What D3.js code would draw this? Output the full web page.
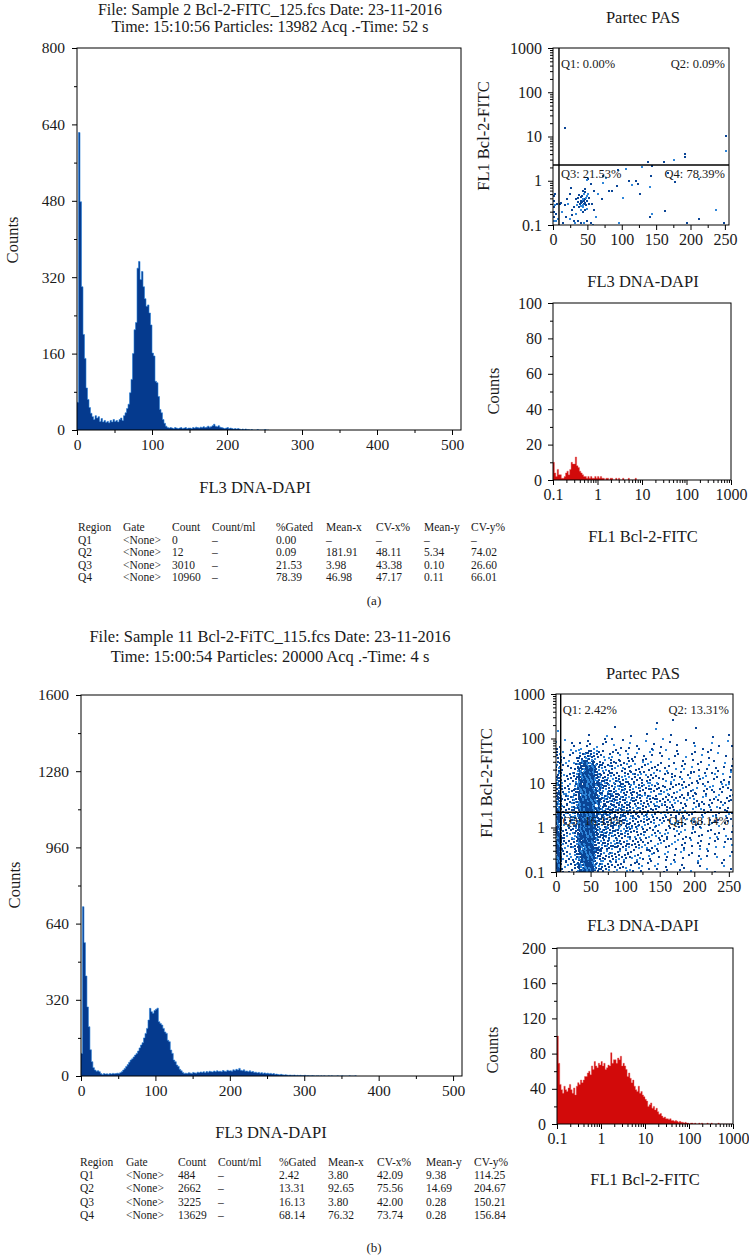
<!DOCTYPE html>
<html><head><meta charset="utf-8">
<script src="https://cdn.jsdelivr.net/npm/d3@7"></script>
<style>
body{margin:0;background:#fff}
svg{display:block}
text{font-family:"Liberation Serif","Times New Roman",serif;fill:#1a1a1a}
</style></head>
<body><svg id="c" width="749" height="1259"></svg>
<script>
// ================= DATA =================
const titleA = ["File: Sample 2 Bcl-2-FITC_125.fcs Date: 23-11-2016", "Time: 15:10:56 Particles: 13982 Acq .-Time: 52 s"];
const titleB = ["File: Sample 11 Bcl-2-FiTC_115.fcs Date: 23-11-2016", "Time: 15:00:54 Particles: 20000 Acq .-Time: 4 s"];
const scatterTitle = "Partec PAS";
const dnaLabel = "FL3 DNA-DAPI";
const bclLabel = "FL1 Bcl-2-FITC";
const countsLabel = "Counts";

// main DNA histograms: counts per channel bin (bin width 2, starting at 0)
const histBinWidth = 2;
const mainTicksX = [0, 100, 200, 300, 400, 500];
const mainTicksYA = [0, 160, 320, 480, 640, 800];
const mainTicksYB = [0, 320, 640, 960, 1280, 1600];
const mainCountsA = [58,623,478,300,200,150,88,64,47,35,28,22,30,25,28,18,24,17,20,16,
  18,15,20,17,22,18,20,17,22,25,20,30,36,45,54,78,106,160,210,225,
  339,353,315,332,300,275,259,262,245,220,161,155,102,99,70,43,36,22,14,8,
  5,4,5,4,3,5,4,3,4,5,3,4,5,3,4,4,3,5,4,6,
  5,4,6,5,7,5,6,8,6,7,9,12,8,7,9,6,5,4,3,4,
  5,3,4,3,2,3,2,3,2,1,2,1,2,1,1,0,1,0,0,0,
  1,0,0,0,0,1,0,0];
const mainCountsB = [95,711,560,420,290,207,110,60,35,25,20,22,18,10,6,10,8,9,7,10,
  8,11,9,10,12,11,14,18,25,32,40,48,58,67,72,80,88,95,105,118,
  130,140,160,179,200,235,284,270,263,275,280,285,228,220,214,200,185,179,150,144,
  109,95,67,60,46,40,28,22,15,11,12,10,14,12,11,15,13,12,16,14,
  17,15,18,14,19,16,20,18,17,21,18,22,19,20,18,23,20,19,24,21,
  22,20,26,23,28,25,32,24,22,26,20,21,18,22,17,19,15,16,13,15,
  12,14,11,13,10,12,9,11,8,10,7,8,6,5,7,5,4,5,4,3,
  4,3,3,4,2,3,2,3,2,2,3,1,2,1,1,2,1,0,1,1,
  0,1,0,1,0,0,1,0,1,0,0,0,1,0,0,1,0,0,0,0,
  1,0,0,0,1];

// FITC histograms: counts per log bin (32 bins per decade from 0.1)
const redBinsPerDecade = 32;
const logTicks = [0.1, 1, 10, 100, 1000];
const redTicksYA = [0, 20, 40, 60, 80, 100];
const redTicksYB = [0, 40, 80, 120, 160, 200];
const redCountsA = [10,4,2,6,3,3,1,1,2,4,5,3,6,10,9,9,13,8,7,5,4,3,2,2,1,2,1,2,1,1,2,1,
  2,1,2,1,1,0,1,1,0,1,1,0,0,1,0,1,0,0,1,0,0,0,1,0,0,0,0,1];
const redCountsB = [100,69,45,39,35,43,39,37,41,45,39,35,41,33,43,47,45,50,47,50,54,54,58,60,56,66,62,71,66,64,69,67,
  71,66,69,62,64,67,66,81,69,73,73,69,75,73,77,66,69,66,62,54,58,52,47,50,43,39,37,43,35,37,33,31,
  28,26,20,22,24,18,20,16,18,14,11,12,9,7,8,6,6,5,6,4,4,3,4,3,2,3,2,2,1,2,1,1,
  0,1,1,0,1,0,0,1,0,1,0,0,0,1,0,0,1,0,0,0,0,1,0,0,0,0,0,0,0,0,0,0];

// scatter (a): individual events [DNA, FITC]
const scatterTicksX = [0, 50, 100, 150, 200, 250];
const scatterPointsA = [
  [18,15.5],[252,10],[252,4.6],[192,4],[192,3.4],[176,3.0],[162,2.6],[138,2.6],[129,2.0],[144,2.15],
  [95,1.75],[106,1.8],[167,1.5],[178,0.92],[213,1.1],[120,0.99],[111,1.0],[115,0.8],[123,0.85],[142,1.25],
  [141,0.74],[93,0.76],[73,1.25],[77,1.15],[82,0.59],[86,0.6],[72,0.9],[55,0.85],[51,1.1],[50,1.05],
  [26,0.7],[71,0.38],[102,0.4],[126,0.5],[163,0.21],[144,0.18],[141,0.15],[212,0.14],[237,0.22],[195,0.11],
  [248,0.11],[96,0.11],
  [40,0.35],[42,0.33],[44,0.36],[45,0.3],[46,0.38],[43,0.28],[41,0.42],[47,0.32],[48,0.4],[39,0.3],
  [38,0.25],[44,0.25],[46,0.22],[42,0.45],[45,0.5],[48,0.28],[50,0.35],[49,0.45],[36,0.33],[37,0.4],
  [43,0.38],[45,0.34],[41,0.31],[40,0.27],[52,0.3],[53,0.4],[35,0.28],[44,0.2],[47,0.55],[49,0.23],
  [34,0.38],[38,0.48],[51,0.5],[43,0.6],[46,0.65],[40,0.22],
  [1,0.45],[2,0.35],[3,0.28],[1,0.2],[2,0.15],[4,0.12],[3,0.5],[5,0.18],[1,0.12],[6,0.3],[2,0.25],[7,0.14],
  [10,0.3],[12,0.32],[13,0.2],[17,0.28],[20,0.38],[22,0.3],[24,0.5],[19,0.15],[25,0.14],[28,0.17],
  [30,0.12],[32,0.11],[36,0.12],[40,0.11],[45,0.11],[50,0.12],[55,0.11],[58,0.1],[27,0.22],[31,0.25],
  [33,0.18],[15,0.11],[60,0.22],[62,0.15],[57,0.3],[60,0.6],[65,0.5]
];
const gateXA = 8.7, gateYA = 2.27;
const gateXB = 6.8, gateYB = 2.2;

// scatter (b): visible events per cell; columns = DNA bins of 8 (0..256), rows = FITC quarter-decades from 0.1 (bottom row first)
const gridDnaStep = 8;
const gridRowsPerDecade = 4;
const scatterGridB = [
  [28,4,4,6,18,28,28,9,6,5,5,4,4,3,3,3,2,2,2,2,2,1,2,1,1,1,1,1,1,1,1,1],
  [28,5,4,7,20,28,28,10,7,6,6,5,5,4,4,3,3,3,2,2,2,2,2,2,1,2,1,2,1,1,1,2],
  [28,5,5,8,22,28,28,12,8,8,7,7,6,5,5,4,4,3,3,3,3,2,2,2,2,2,2,2,2,1,2,2],
  [26,5,5,8,24,28,28,14,10,9,9,8,7,6,5,5,4,4,4,3,3,3,3,2,3,2,2,2,2,2,2,2],
  [24,5,5,9,25,28,28,16,11,10,10,10,8,7,6,6,5,5,4,4,4,3,3,3,3,3,3,2,3,2,2,3],
  [20,6,6,10,25,28,28,17,12,11,11,10,9,8,7,7,6,5,5,4,4,4,4,4,3,3,3,3,3,3,3,3],
  [16,5,6,10,25,28,28,17,11,10,10,9,9,8,7,6,6,5,5,5,4,4,4,4,3,4,3,3,3,3,3,4],
  [14,5,5,9,24,28,28,16,10,9,8,8,7,7,6,6,5,5,4,4,4,4,3,3,4,3,3,3,3,2,3,3],
  [12,4,4,7,22,26,26,14,8,7,7,6,6,5,5,4,4,4,3,3,3,3,3,2,3,2,3,2,3,2,2,3],
  [9,3,3,5,16,22,20,10,6,5,5,4,4,4,3,3,3,3,3,2,2,2,2,2,2,2,1,2,2,1,2,2],
  [6,2,2,3,6,10,9,5,4,3,3,3,2,3,2,2,2,2,1,2,1,2,1,1,2,1,1,2,1,1,1,1],
  [3,1,1,1,2,2,2,1,2,1,2,1,1,2,1,1,1,2,1,1,1,1,0,1,1,1,1,0,1,1,0,2],
  [1,0,0,0,0,1,0,0,0,1,1,0,0,1,0,0,1,0,1,0,1,0,0,0,0,1,0,0,1,0,0,1],
  [0,0,0,0,0,0,0,0,0,0,0,0,0,0,0,0,0,0,1,0,0,1,0,0,0,0,0,0,0,0,0,0]
];
const quadA = ["Q1: 0.00%", "Q2: 0.09%", "Q3: 21.53%", "Q4: 78.39%"];
const quadB = ["Q1: 2.42%", "Q2: 13.31%", "Q3: 16.13%", "Q4: 68.14%"];

const tableHeader = ["Region","Gate","Count","Count/ml","%Gated","Mean-x","CV-x%","Mean-y","CV-y%"];
const tableA = [
  ["Q1","<None>","0","–","0.00","–","–","–","–"],
  ["Q2","<None>","12","–","0.09","181.91","48.11","5.34","74.02"],
  ["Q3","<None>","3010","–","21.53","3.98","43.38","0.10","26.60"],
  ["Q4","<None>","10960","–","78.39","46.98","47.17","0.11","66.01"]
];
const tableB = [
  ["Q1","<None>","484","–","2.42","3.80","42.09","9.38","114.25"],
  ["Q2","<None>","2662","–","13.31","92.65","75.56","14.69","204.67"],
  ["Q3","<None>","3225","–","16.13","3.80","42.00","0.28","150.21"],
  ["Q4","<None>","13629","–","68.14","76.32","73.74","0.28","156.84"]
];
const panelLabels = ["(a)", "(b)"];

// ================= DRAWING =================
const svg = d3.select("#c");
const BLUE = "#053a8e", BLUE_EDGE = "#2a7fd6", RED = "#d20a0a", RED_EDGE = "#e25050";
const DOT_DARK = "#0a4596", DOT_LIGHT = "#2f86d9";

function txt(x, y, s, size, anchor = "middle", rot = false) {
  const t = svg.append("text").attr("x", x).attr("y", y).attr("font-size", size)
    .attr("text-anchor", anchor).text(s);
  if (rot) t.attr("transform", `rotate(-90,${x},${y})`).attr("dominant-baseline", "central");
  return t;
}
function styleAxis(g, size) {
  g.attr("font-family", null).attr("font-size", null);
  g.select(".domain").remove();
  g.selectAll("text").attr("font-size", size).attr("fill", "#1a1a1a");
  g.selectAll("line").attr("stroke", "#000");
}
function frame(l, t, r, b) {
  svg.append("rect").attr("x", l).attr("y", t).attr("width", r - l).attr("height", b - t)
    .attr("fill", "none").attr("stroke", "#000").attr("stroke-width", 1);
}
function minorLog(lo, hi) {
  const out = [];
  for (let d = lo; d < hi; d *= 10) for (let m = 2; m <= 9; m++) out.push(d * m);
  return out;
}
function midpoints(ticks) {
  const out = [];
  for (let i = 0; i < ticks.length - 1; i++) out.push((ticks[i] + ticks[i + 1]) / 2);
  return out;
}
let clipId = 0;
function clip(l, t, r, b) {
  const id = "clip" + (clipId++);
  svg.append("clipPath").attr("id", id).append("rect").attr("x", l).attr("y", t).attr("width", r - l).attr("height", b - t);
  return `url(#${id})`;
}

function mainHist(box, counts, yTicks, tickSize) {
  const {l, t, r, b} = box;
  const x = d3.scaleLinear().domain([0, 512]).range([l, r]);
  const y = d3.scaleLinear().domain([0, yTicks[yTicks.length - 1]]).range([b, t]);
  const g = svg.append("g").attr("clip-path", clip(l, t, r, b));
  const pts = counts.map((d, i) => [i * histBinWidth, d]);
  pts.push([counts.length * histBinWidth, 0]);
  const line = d3.line().x(d => x(d[0])).y(d => y(d[1])).curve(d3.curveStepAfter);
  const area = d3.area().x(d => x(d[0])).y0(b).y1(d => y(d[1])).curve(d3.curveStepAfter);
  g.append("path").attr("d", area(pts)).attr("fill", BLUE);
  g.append("path").attr("d", line(pts))
    .attr("fill", "none").attr("stroke", BLUE_EDGE).attr("stroke-width", 0.6);
  frame(l, t, r, b);
  svg.append("g").attr("transform", `translate(0,${b})`)
    .call(d3.axisBottom(x).tickValues(mainTicksX).tickSize(5).tickPadding(4).tickFormat(d3.format("d")))
    .call(g => styleAxis(g, tickSize));
  svg.append("g").attr("transform", `translate(0,${b})`)
    .call(d3.axisBottom(x).tickValues(midpoints(mainTicksX)).tickSize(3).tickFormat(""))
    .call(g => styleAxis(g, tickSize));
  svg.append("g").attr("transform", `translate(${l},0)`)
    .call(d3.axisLeft(y).tickValues(yTicks).tickSize(5).tickPadding(7).tickFormat(d3.format("d")))
    .call(g => styleAxis(g, tickSize));
  svg.append("g").attr("transform", `translate(${l},0)`)
    .call(d3.axisLeft(y).tickValues(midpoints(yTicks)).tickSize(3).tickFormat(""))
    .call(g => styleAxis(g, tickSize));
}

function redHist(box, counts, yTicks, tickSize) {
  const {l, t, r, b} = box;
  const x = d3.scaleLog().domain([0.1, 1000]).range([l, r]);
  const y = d3.scaleLinear().domain([0, yTicks[yTicks.length - 1]]).range([b, t]);
  const edge = i => 0.1 * Math.pow(10, i / redBinsPerDecade);
  const g = svg.append("g").attr("clip-path", clip(l, t, r, b));
  const pts = counts.map((d, i) => [edge(i), d]);
  pts.push([edge(counts.length), 0]);
  const line = d3.line().x(d => x(d[0])).y(d => y(d[1])).curve(d3.curveStepAfter);
  const area = d3.area().x(d => x(d[0])).y0(b).y1(d => y(d[1])).curve(d3.curveStepAfter);
  g.append("path").attr("d", area(pts)).attr("fill", RED);
  g.append("path").attr("d", line(pts))
    .attr("fill", "none").attr("stroke", RED_EDGE).attr("stroke-width", 0.4);
  frame(l, t, r, b);
  svg.append("g").attr("transform", `translate(0,${b})`)
    .call(d3.axisBottom(x).tickValues(logTicks).tickSize(5).tickPadding(4).tickFormat(d => String(d)))
    .call(g => styleAxis(g, tickSize));
  svg.append("g").attr("transform", `translate(0,${b})`)
    .call(d3.axisBottom(x).tickValues(minorLog(0.1, 1000)).tickSize(3).tickFormat(""))
    .call(g => styleAxis(g, tickSize));
  svg.append("g").attr("transform", `translate(${l},0)`)
    .call(d3.axisLeft(y).tickValues(yTicks).tickSize(5).tickPadding(6).tickFormat(d3.format("d")))
    .call(g => styleAxis(g, tickSize));
  svg.append("g").attr("transform", `translate(${l},0)`)
    .call(d3.axisLeft(y).tickValues(midpoints(yTicks)).tickSize(3).tickFormat(""))
    .call(g => styleAxis(g, tickSize));
}

function scatterFrame(box, gx, gy, quads, tickSize) {
  const {l, t, r, b} = box;
  const x = d3.scaleLinear().domain([0, 256]).range([l, r]);
  const y = d3.scaleLog().domain([0.1, 1000]).range([b, t]);
  return {x, y, finish: () => {
    const gl = svg.append("g").attr("stroke", "#000").attr("stroke-width", 1.4);
    gl.append("line").attr("x1", x(gx)).attr("x2", x(gx)).attr("y1", t).attr("y2", b);
    gl.append("line").attr("x1", l).attr("x2", r).attr("y1", y(gy)).attr("y2", y(gy));
    frame(l, t, r, b);
    svg.append("g").attr("transform", `translate(0,${b})`)
      .call(d3.axisBottom(x).tickValues(scatterTicksX).tickSize(5).tickPadding(4).tickFormat(d3.format("d")))
      .call(g => styleAxis(g, tickSize));
    svg.append("g").attr("transform", `translate(0,${b})`)
      .call(d3.axisBottom(x).tickValues(midpoints(scatterTicksX)).tickSize(3).tickFormat(""))
      .call(g => styleAxis(g, tickSize));
    svg.append("g").attr("transform", `translate(${l},0)`)
      .call(d3.axisLeft(y).tickValues(logTicks).tickSize(5).tickPadding(6).tickFormat(d => String(d)))
      .call(g => styleAxis(g, tickSize));
    svg.append("g").attr("transform", `translate(${l},0)`)
      .call(d3.axisLeft(y).tickValues(minorLog(0.1, 1000)).tickSize(3).tickFormat(""))
      .call(g => styleAxis(g, tickSize));
    const qs = 12.5;
    const ax = x(gx) + 2;
    txt(ax, t + 20, quads[0], qs, "start");
    txt(r - 4, t + 20, quads[1], qs, "end");
    txt(ax, y(gy) + 13, quads[2], qs, "start");
    txt(r - 4, y(gy) + 13, quads[3], qs, "end");
  }};
}

function table(x0s, y0, dy, header, rows) {
  const all = [header, ...rows];
  all.forEach((row, ri) => row.forEach((cell, ci) => {
    txt(x0s[ci], y0 + ri * dy, cell, 11.5, "start");
  }));
}

// ---------- Panel A ----------
txt(270, 15, titleA[0], 16);
txt(270, 32, titleA[1], 16);
mainHist({l: 77, t: 48, r: 461, b: 430}, mainCountsA, mainTicksYA, 15.5);
txt(12, 240, countsLabel, 16.5, "middle", true);
txt(255, 493, dnaLabel, 16.5);
table([78, 123, 172, 212, 276, 326, 376, 424, 471], 531, 12.6, tableHeader, tableA);
txt(374, 605, panelLabels[0], 13);

txt(643, 23, scatterTitle, 16.5);
{
  const sc = scatterFrame({l: 553, t: 48, r: 729, b: 225}, gateXA, gateYA, quadA, 16);
  const g = svg.append("g").attr("clip-path", clip(553, 48, 729, 225)).attr("shape-rendering", "crispEdges");
  g.selectAll("rect").data(scatterPointsA).join("rect")
    .attr("x", d => Math.round(sc.x(d[0]) - 1)).attr("y", d => Math.round(sc.y(d[1]) - 1))
    .attr("width", 2).attr("height", 2)
    .attr("fill", (d, i) => i % 3 === 2 ? DOT_LIGHT : DOT_DARK);
  sc.finish();
}
txt(643, 287, dnaLabel, 16.5);
txt(483, 136, bclLabel, 16.5, "middle", true);

redHist({l: 553, t: 303, r: 731, b: 480}, redCountsA, redTicksYA, 16);
txt(493, 391, countsLabel, 16.5, "middle", true);
txt(643, 542, bclLabel, 16.5);

// ---------- Panel B ----------
txt(270, 642, titleB[0], 16.5);
txt(270, 662, titleB[1], 16.5);
mainHist({l: 81, t: 695, r: 462, b: 1076}, mainCountsB, mainTicksYB, 15.5);
txt(14, 885, countsLabel, 16.5, "middle", true);
txt(271, 1138, dnaLabel, 16.5);
table([80, 126, 178, 218, 279, 328, 377, 426, 474], 1166, 13.2, tableHeader, tableB);
txt(374, 1252, panelLabels[1], 13);

txt(643, 679, scatterTitle, 16.5);
{
  const sc = scatterFrame({l: 556, t: 694, r: 733, b: 872}, gateXB, gateYB, quadB, 16);
  const g = svg.append("g").attr("clip-path", clip(556, 694, 733, 872)).attr("shape-rendering", "crispEdges");
  const dots = [];
  const frac = v => v - Math.floor(v);
  scatterGridB.forEach((row, k) => row.forEach((n, c) => {
    const x0 = c * gridDnaStep, x1 = Math.min(256, x0 + gridDnaStep);
    const lo = -1 + k / gridRowsPerDecade, span = 1 / gridRowsPerDecade;
    const s1 = frac(c * 0.318 + k * 0.137), s2 = frac(c * 0.731 + k * 0.593);
    for (let j = 0; j < n; j++) {
      const u = frac(s1 + (j + 1) * 0.7548776662), v = frac(s2 + (j + 1) * 0.5698402910);
      dots.push({dna: x0 + u * (x1 - x0), fitc: Math.pow(10, lo + v * span), light: (j + c + k) % 3 === 0});
    }
  }));
  g.selectAll("rect").data(dots).join("rect")
    .attr("x", d => Math.round(sc.x(d.dna) - 1)).attr("y", d => Math.round(sc.y(d.fitc) - 1))
    .attr("width", 2).attr("height", 2)
    .attr("fill", d => d.light ? DOT_LIGHT : DOT_DARK);
  sc.finish();
}
txt(643, 931, dnaLabel, 16.5);
txt(486, 783, bclLabel, 16.5, "middle", true);

redHist({l: 557, t: 948, r: 733, b: 1124}, redCountsB, redTicksYB, 16);
txt(492, 1050, countsLabel, 16.5, "middle", true);
txt(645, 1185, bclLabel, 16.5);
</script>
</body></html>
